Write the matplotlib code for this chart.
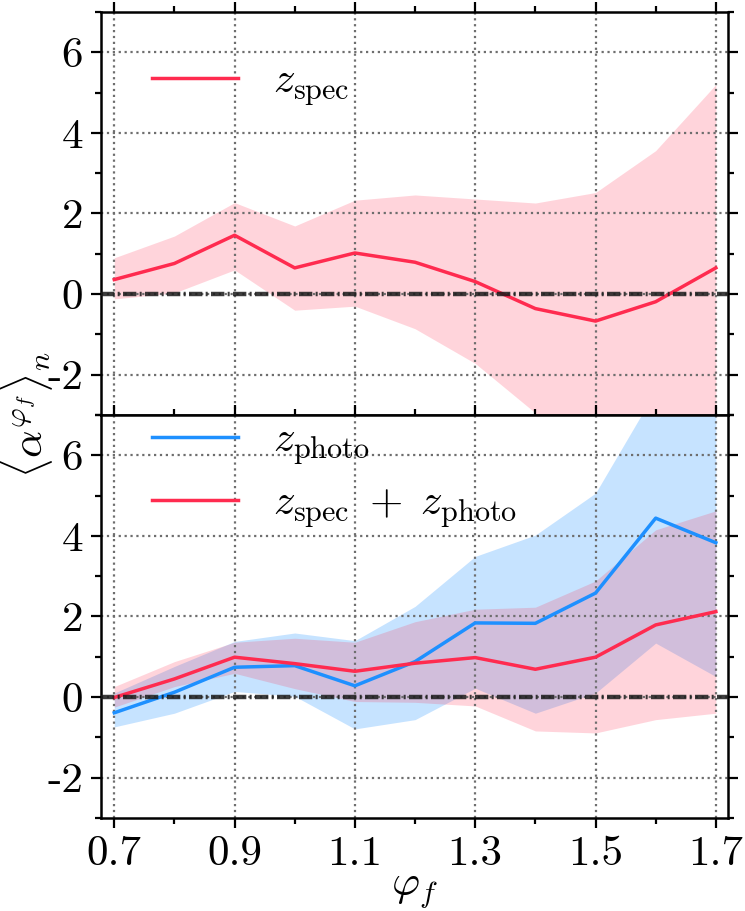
import matplotlib
matplotlib.use("Agg")
from matplotlib import pyplot as plt
from matplotlib.ticker import MultipleLocator

plt.rcParams['font.family'] = 'serif'
plt.rcParams['font.serif'] = ['cmr10']
plt.rcParams['mathtext.fontset'] = 'cm'
plt.rcParams['axes.formatter.use_mathtext'] = True

# x positions (phi_f)
phi = [0.7, 0.8, 0.9, 1.0, 1.1, 1.2, 1.3, 1.4, 1.5, 1.6, 1.7]

# top panel: z_spec
spec_mean = [0.36, 0.76, 1.46, 0.65, 1.02, 0.79, 0.31, -0.36, -0.67, -0.19, 0.65]
spec_hi = [0.90, 1.44, 2.27, 1.69, 2.33, 2.46, 2.36, 2.26, 2.52, 3.56, 5.20]
spec_lo = [-0.12, 0.03, 0.60, -0.40, -0.30, -0.86, -1.72, -2.95, -3.8, -4.0, -4.2]

# bottom panel: z_photo
photo_mean = [-0.39, 0.12, 0.74, 0.78, 0.28, 0.88, 1.84, 1.83, 2.58, 4.44, 3.83]
photo_hi = [0.10, 0.76, 1.38, 1.59, 1.40, 2.25, 3.49, 4.02, 5.06, 7.6, 8.5]
photo_lo = [-0.74, -0.40, 0.14, 0.02, -0.79, -0.56, 0.22, -0.40, 0.10, 1.34, 0.51]

# bottom panel: z_spec + z_photo
comb_mean = [-0.01, 0.45, 0.99, 0.83, 0.64, 0.84, 0.98, 0.69, 0.99, 1.79, 2.12]
comb_hi = [0.26, 0.88, 1.36, 1.46, 1.36, 1.87, 2.18, 2.23, 2.88, 4.15, 4.62]
comb_lo = [-0.25, 0.26, 0.59, 0.21, -0.11, -0.13, -0.22, -0.84, -0.89, -0.56, -0.40]

xticks = [0.7, 0.9, 1.1, 1.3, 1.5, 1.7]
xticklabels = ['0.7', '0.9', '1.1', '1.3', '1.5', '1.7']
yticks = [-2, 0, 2, 4, 6]
yticklabels = ['-2', '0', '2', '4', '6']

red = '#ff2b4f'
blue = '#1e90ff'
fs = 31

fig = plt.figure(figsize=(7.45, 9.11), dpi=100)
ax1 = fig.add_axes([0.1356, 0.5445, 0.8414, 0.4423])
ax2 = fig.add_axes([0.1356, 0.1021, 0.8414, 0.4424], sharex=ax1)

# top panel
ax1.fill_between(phi, spec_lo, spec_hi, color=red, alpha=0.2, lw=0)
ax1.plot(phi, spec_mean, color=red, lw=2.5, label=r'$z_{\rm spec}$')

# bottom panel
ax2.fill_between(phi, photo_lo, photo_hi, color=blue, alpha=0.25, lw=0)
ax2.plot(phi, photo_mean, color=blue, lw=2.5, label=r'$z_{\rm photo}$')
ax2.fill_between(phi, comb_lo, comb_hi, color=red, alpha=0.2, lw=0)
ax2.plot(phi, comb_mean, color=red, lw=2.5, label=r'$z_{\rm spec}\;+\;z_{\rm photo}$')

for ax in (ax1, ax2):
    ax.axhline(0, color='#1a1a1a', lw=3.2, alpha=0.85, zorder=3,
               dashes=(3.0, 0.75, 0.45, 0.75))
    ax.set_ylim(-3, 7)
    ax.set_xlim(0.678, 1.72)
    ax.set_xticks(xticks)
    ax.xaxis.set_minor_locator(MultipleLocator(0.1))
    ax.set_yticks(yticks)
    ax.set_yticklabels(yticklabels)
    ax.yaxis.set_minor_locator(MultipleLocator(1))
    ax.grid(True, which='major', ls=':', color='#6e6e6e', lw=1.6)
    ax.tick_params(which='both', direction='out', top=True, right=True,
                   labelsize=fs, width=1.6, pad=6)
    ax.tick_params(which='major', length=7)
    ax.tick_params(which='minor', length=4)
    for sp in ax.spines.values():
        sp.set_linewidth(1.8)

ax1.tick_params(labelbottom=False)
ax2.set_xticklabels(xticklabels)
ax2.set_xlabel(r'$\varphi_f$', fontsize=fs, labelpad=0)

ax1.legend(loc='upper left', frameon=False, fontsize=fs, bbox_to_anchor=(0.02, 0.97),
           handlelength=2.0, handletextpad=0.8)
ax2.legend(loc='upper left', frameon=False, fontsize=fs, bbox_to_anchor=(0.02, 1.08),
           handlelength=2.0, handletextpad=0.8, labelspacing=0.42)

fig.text(0.036, 0.5445, r'$\langle \alpha^{\varphi_f} \rangle_n$', fontsize=fs,
         rotation=90, ha='center', va='center')

plt.savefig('out.png', dpi=100)
